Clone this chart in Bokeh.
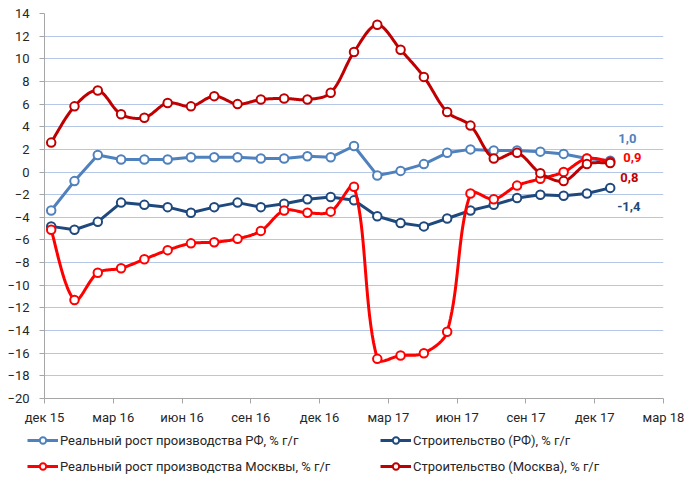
import numpy as np
from bokeh.plotting import figure
from bokeh.layouts import column
from bokeh.models import Range1d, FixedTicker, Legend, LegendItem, ColumnDataSource
from bokeh.core.properties import value
from bokeh.embed import file_html
from bokeh.resources import INLINE

# ---------------- data ----------------
months = ["дек 15", "янв 16", "фев 16", "мар 16", "апр 16", "май 16", "июн 16",
          "июл 16", "авг 16", "сен 16", "окт 16", "ноя 16", "дек 16", "янв 17",
          "фев 17", "мар 17", "апр 17", "май 17", "июн 17", "июл 17", "авг 17",
          "сен 17", "окт 17", "ноя 17", "дек 17"]

rf_prod = [-3.4, -0.8, 1.5, 1.1, 1.1, 1.1, 1.3, 1.3, 1.3, 1.2, 1.2, 1.4, 1.3,
           2.3, -0.3, 0.1, 0.7, 1.7, 2.0, 1.9, 1.9, 1.8, 1.6, 1.2, 1.0]
rf_constr = [-4.8, -5.1, -4.4, -2.7, -2.9, -3.1, -3.6, -3.1, -2.7, -3.1, -2.8, -2.4, -2.2,
             -2.5, -3.9, -4.5, -4.8, -4.1, -3.4, -2.9, -2.3, -2.0, -2.1, -1.9, -1.4]
msk_prod = [-5.1, -11.3, -8.9, -8.5, -7.7, -6.9, -6.3, -6.2, -5.9, -5.2, -3.4, -3.6, -3.5,
            -1.3, -16.5, -16.2, -16.0, -14.1, -1.9, -2.4, -1.2, -0.6, 0.0, 1.2, 0.9]
msk_constr = [2.6, 5.8, 7.2, 5.1, 4.8, 6.1, 5.8, 6.7, 6.0, 6.4, 6.5, 6.4, 7.0,
              10.6, 13.0, 10.8, 8.4, 5.3, 4.1, 1.2, 1.7, -0.1, -0.8, 0.7, 0.8]

tick_labels = ["дек 15", "мар 16", "июн 16", "сен 16", "дек 16",
               "мар 17", "июн 17", "сен 17", "дек 17", "мар 18"]

names = ["Реальный рост производства РФ, % г/г",
         "Строительство (РФ), % г/г",
         "Реальный рост производства Москвы, % г/г",
         "Строительство (Москва), % г/г"]

colors = ["#4F81BD", "#1F497D", "#FF0000", "#C00000"]

# ---------------- layout constants ----------------
X_START = 0.292   # position of first point in month units (axis starts at дек 15)
X_STEP = 1.016    # spacing of points in month units
FONT = "Roboto"
W = 684
FRAME_L, FRAME_R, FRAME_T = 44, 21, 13
H1, FRAME_B = 430, 32
PX_X = (W - FRAME_L - FRAME_R) / 27.0       # px per month
PX_Y = (H1 - FRAME_T - FRAME_B) / 34.0      # px per unit

xs = X_START + X_STEP * np.arange(len(months))


def smooth(x, y, n=20):
    """Excel-like smoothed line: Bezier segments, arms proportional to segment lengths (in px)."""
    P = np.column_stack([np.asarray(x, float) * PX_X, np.asarray(y, float) * PX_Y])
    m = len(P)
    tang = np.zeros_like(P)
    for i in range(m):
        a = P[i - 1] if i > 0 else P[i]
        b = P[i + 1] if i < m - 1 else P[i]
        tang[i] = b - a
    out = [P[0]]
    t = np.linspace(0, 1, n + 1)[1:, None]
    for i in range(m - 1):
        p1, p2 = P[i], P[i + 1]
        L = np.linalg.norm(p2 - p1)
        Lprev = np.linalg.norm(p1 - P[i - 1]) if i > 0 else 0.0
        Lnext = np.linalg.norm(P[i + 2] - p2) if i + 2 < m else 0.0
        f1 = L / (L + Lprev) if i > 0 else 0.5
        f2 = L / (L + Lnext) if i + 2 < m else 0.5
        c1 = p1 + tang[i] * f1 / 3.0
        c2 = p2 - tang[i + 1] * f2 / 3.0
        seg = (1 - t) ** 3 * p1 + 3 * (1 - t) ** 2 * t * c1 + 3 * (1 - t) * t ** 2 * c2 + t ** 3 * p2
        out.extend(seg)
    out = np.array(out)
    return out[:, 0] / PX_X, out[:, 1] / PX_Y


p = figure(width=W, height=H1, output_backend="svg", toolbar_location=None,
           x_range=Range1d(0, 27), y_range=Range1d(-20, 14),
           min_border_left=FRAME_L, min_border_right=FRAME_R,
           min_border_top=FRAME_T, min_border_bottom=FRAME_B)
p.frame_align = False
p.outline_line_color = None
p.background_fill_color = "white"
p.border_fill_color = "white"

p.xgrid.grid_line_color = None
p.ygrid.grid_line_color = "#B4C7E7"
p.ygrid.grid_line_width = 1

p.yaxis.ticker = FixedTicker(ticks=list(range(-20, 15, 2)))
p.xaxis.ticker = FixedTicker(ticks=list(range(0, 28, 3)))
p.xaxis.major_label_overrides = {i * 3: lab for i, lab in enumerate(tick_labels)}

for ax in (p.xaxis[0], p.yaxis[0]):
    ax.axis_line_color = "#A6A6A6"
    ax.major_tick_line_color = "#A6A6A6"
    ax.major_tick_out = 5
    ax.major_tick_in = 0
    ax.minor_tick_line_color = None
    ax.major_label_text_font = FONT
    ax.major_label_text_font_size = "13px"
    ax.major_label_text_color = "#262626"
p.yaxis.major_label_standoff = 10
p.xaxis.major_label_standoff = 6

series = [(rf_prod, False), (rf_constr, False), (msk_prod, True), (msk_constr, True)]

for (vals, sm), color in zip(series, colors):
    if sm:
        lx, ly = smooth(xs, vals)
    else:
        lx, ly = xs, np.array(vals, dtype=float)
    p.line(lx, ly, line_color=color, line_width=3, line_join="round", line_cap="round")
    p.scatter(xs, vals, marker="circle", size=8.5, fill_color="white",
              line_color=color, line_width=2)

# end-value labels
last_vals = [rf_prod[-1], msk_prod[-1], msk_constr[-1], rf_constr[-1]]
lab_src = ColumnDataSource(dict(
    x=[xs[-1]] * 4,
    y=last_vals,
    text=[("%.1f" % v).replace(".", ",") for v in last_vals],
    color=[colors[0], colors[2], colors[3], colors[1]],
    xo=[8, 13, 10, 7],
    yo=[-22, -4, 15, 19],
))
p.text(x="x", y="y", text="text", source=lab_src, text_color="color",
       x_offset="xo", y_offset="yo", text_font=value(FONT), text_font_style="bold",
       text_font_size="13px", text_baseline="middle", text_align="left")

# ---------------- legend strip ----------------
H2 = 45
q = figure(width=W, height=H2, output_backend="svg", toolbar_location=None,
           x_range=Range1d(0, 1), y_range=Range1d(0, 1),
           x_axis_type=None, y_axis_type=None, min_border=0)
q.frame_align = False
q.outline_line_color = None
q.background_fill_color = "white"
q.border_fill_color = "white"

# legend-only renderers (no visible data)
leg_rends = []
for color in colors:
    ln = q.line(x=[np.nan], y=[np.nan], line_color=color, line_width=3)
    sc = q.scatter(x=[np.nan], y=[np.nan], marker="circle", size=8.5, fill_color="white",
                   line_color=color, line_width=2)
    leg_rends.append([ln, sc])

common = dict(border_line_color=None, background_fill_alpha=0, padding=0, margin=0,
              spacing=10, glyph_width=31, glyph_height=16, label_height=16,
              label_standoff=2, label_text_font=FONT, label_text_font_size="13px",
              label_text_color="#262626", orientation="vertical")

leg1 = Legend(items=[LegendItem(label=names[0], renderers=leg_rends[0]),
                     LegendItem(label=names[2], renderers=leg_rends[2])],
              location=(27, 1), **common)
leg2 = Legend(items=[LegendItem(label=names[1], renderers=leg_rends[1]),
                     LegendItem(label=names[3], renderers=leg_rends[3])],
              location=(380, 1), **common)
q.add_layout(leg1)
q.add_layout(leg2)

open("out.html", "w").write(file_html(column(p, q, spacing=0), INLINE))
